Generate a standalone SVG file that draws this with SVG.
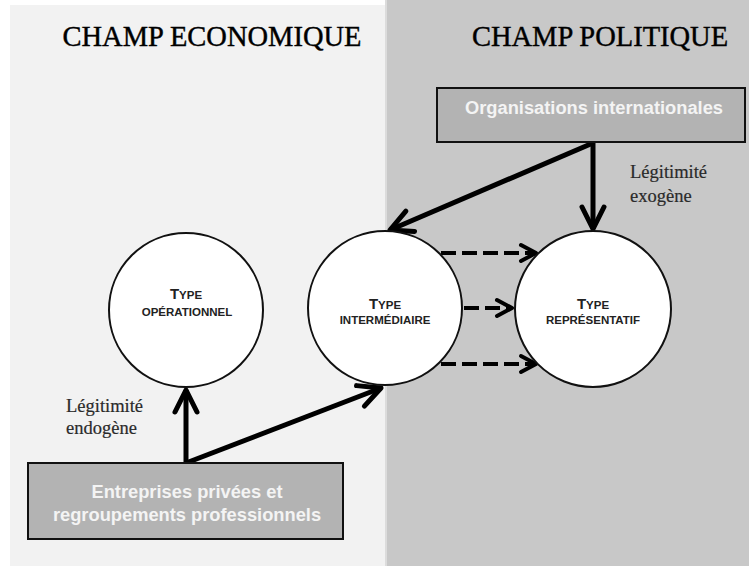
<svg xmlns="http://www.w3.org/2000/svg" width="749" height="566" viewBox="0 0 749 566">
<style>
.title{font-family:"Liberation Serif","Times New Roman",serif;font-size:28.5px;fill:#000;stroke:#000;stroke-width:0.4;text-anchor:middle}
.leg{font-family:"Liberation Serif","Times New Roman",serif;font-size:18.5px;fill:#2a2a2a;stroke:#2a2a2a;stroke-width:0.2}
.box{fill:#b3b3b3;stroke:#111;stroke-width:2}
.boxt{font-family:"Liberation Sans",Arial,sans-serif;font-weight:bold;font-size:18.3px;fill:#f4f4f4;text-anchor:middle}
.circ{fill:#fff;stroke:#111;stroke-width:2}
.ct{font-family:"Liberation Sans",Arial,sans-serif;font-weight:bold;font-size:11.5px;fill:#222;text-anchor:middle}
.big{font-size:15px}
.solid{fill:none;stroke:#000;stroke-width:5;marker-end:url(#ah)}
.dash{fill:none;stroke:#000;stroke-width:4;stroke-dasharray:15 6;marker-end:url(#ahd)}
</style>
<defs>
<marker id="ah" markerUnits="userSpaceOnUse" viewBox="-28 -16 32 32" markerWidth="32" markerHeight="32" refX="0" refY="0" orient="auto">
<path d="M-22,-11 L0,0 L-22,11" fill="none" stroke="#000" stroke-width="5" stroke-linecap="round" stroke-linejoin="round"/>
</marker>
<marker id="ahd" markerUnits="userSpaceOnUse" viewBox="-20 -12 24 24" markerWidth="24" markerHeight="24" refX="0" refY="0" orient="auto">
<path d="M-15,-8 L0,0 L-15,8" fill="none" stroke="#000" stroke-width="4" stroke-linecap="round" stroke-linejoin="round"/>
</marker>
</defs>
<rect x="0" y="0" width="749" height="566" fill="#fff"/>
<rect id="panel-eco" x="10" y="5" width="375" height="561" fill="#f2f2f2"/>
<rect x="385" y="0" width="2" height="566" fill="#dcdcdc"/>
<rect id="panel-pol" x="387" y="0" width="362" height="566" fill="#c8c8c8"/>
<text class="title" x="212" y="46">CHAMP ECONOMIQUE</text>
<text class="title" x="600" y="46">CHAMP POLITIQUE</text>
<text class="leg" x="66" y="412">Légitimité</text>
<text class="leg" x="66" y="434">endogène</text>
<text class="leg" x="630" y="178">Légitimité</text>
<text class="leg" x="630" y="202">exogène</text>
<g id="connectors">
<line class="solid" x1="593" y1="143" x2="593" y2="229"/>
<line class="solid" x1="593" y1="143" x2="390" y2="230"/>
<line class="solid" x1="186" y1="463" x2="186" y2="390"/>
<line class="solid" x1="186" y1="463" x2="381" y2="388"/>
<line class="dash" x1="441" y1="253" x2="536" y2="253"/>
<line class="dash" x1="464" y1="308" x2="512" y2="308"/>
<line class="dash" x1="441" y1="364" x2="536" y2="364"/>
</g>
<g id="org-int">
<rect class="box" x="437" y="88" width="308" height="54"/>
<text class="boxt" x="594" y="114">Organisations internationales</text>
</g>
<g id="entreprises">
<rect class="box" x="28" y="463" width="315" height="76"/>
<text class="boxt" x="187" y="498">Entreprises privées et</text>
<text class="boxt" x="187" y="521">regroupements professionnels</text>
</g>
<g id="type-operationnel">
<circle class="circ" cx="186" cy="310" r="77"/>
<text class="ct" x="186" y="299"><tspan class="big">T</tspan>YPE</text>
<text class="ct" x="187" y="316">OPÉRATIONNEL</text>
</g>
<g id="type-intermediaire">
<circle class="circ" cx="385" cy="308" r="77"/>
<text class="ct" x="385" y="309"><tspan class="big">T</tspan>YPE</text>
<text class="ct" x="385" y="324">INTERMÉDIAIRE</text>
</g>
<g id="type-representatif">
<circle class="circ" cx="593" cy="309" r="78"/>
<text class="ct" x="593" y="309"><tspan class="big">T</tspan>YPE</text>
<text class="ct" x="593" y="324">REPRÉSENTATIF</text>
</g>
</svg>
